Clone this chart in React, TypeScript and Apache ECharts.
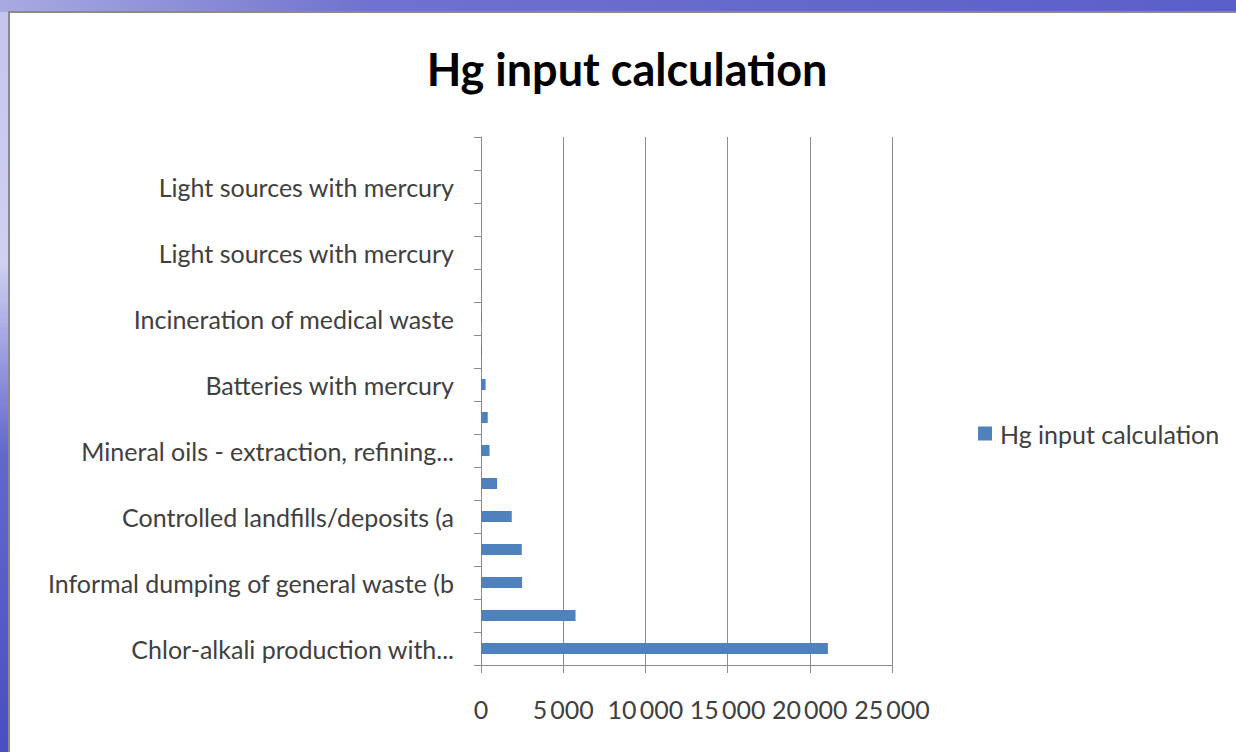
import React, { useEffect, useRef } from "react";
import * as echarts from "echarts";

const categories: string[] = [
  "Chlor-alkali production with...",
  "",
  "Informal dumping of general waste (b",
  "",
  "Controlled landfills/deposits (a",
  "",
  "Mineral oils - extraction, refining...",
  "",
  "Batteries with mercury",
  "",
  "Incineration of medical waste",
  "",
  "Light sources with mercury",
  "",
  "Light sources with mercury",
  "",
];

const hgInput: number[] = [
  21100, 5750, 2500, 2480, 1870, 980, 520, 410, 280, 60, 50, 50, 0, 0, 0, 0,
];

const xTicks = { min: 0, max: 25000, interval: 5000 };

const seriesName = "Hg input calculation";
const chartTitle = "Hg input calculation";

const FONT = "Lato, 'Open Sans', sans-serif";

export default function App() {
  const ref = useRef<HTMLDivElement>(null);

  useEffect(() => {
    if (!ref.current) return;
    const chart = echarts.init(ref.current, null, { renderer: "svg" });
    const fmt = (v: number) =>
      v === 0 ? "0" : String(v).replace(/\B(?=(\d{3})+(?!\d))/g, "\u2009");
    chart.setOption({
      animation: false,
      backgroundColor: "#ffffff",
      graphic: [
        {
          type: "rect",
          z: -10,
          silent: true,
          shape: { x: 0, y: 0, width: 1236, height: 752 },
          style: {
            fill: new echarts.graphic.LinearGradient(0, 0, 0, 1, [
              { offset: 0, color: "#c4c4ee" },
              { offset: 0.35, color: "#cfd0f2" },
              { offset: 0.6, color: "#6468cc" },
              { offset: 1, color: "#4a4fc0" },
            ]),
          },
        },
        {
          type: "rect",
          z: -9,
          silent: true,
          shape: { x: 0, y: 0, width: 1236, height: 12 },
          style: {
            fill: new echarts.graphic.LinearGradient(0, 0, 1, 0, [
              { offset: 0, color: "#a9aae2" },
              { offset: 0.3, color: "#6f72ce" },
              { offset: 1, color: "#5a5ec8" },
            ]),
          },
        },
        {
          type: "rect",
          z: -8,
          silent: true,
          shape: { x: 9, y: 12, width: 1240, height: 750 },
          style: { fill: "#ffffff", stroke: "#8a8a8a", lineWidth: 2 },
        },
      ],
      title: {
        text: chartTitle,
        left: 622,
        top: 41,
        textAlign: "center",
        textStyle: {
          fontFamily: FONT,
          fontSize: 45,
          fontWeight: "bold",
          color: "#000000",
        },
      },
      legend: {
        left: 973,
        top: 416,
        icon: "rect",
        itemWidth: 14,
        itemHeight: 14,
        textStyle: {
          fontFamily: FONT,
          fontSize: 25,
          color: "#404040",
          padding: [0, 0, 0, 3],
        },
        data: [seriesName],
      },
      grid: { left: 481, top: 137, width: 411, height: 528, containLabel: false },
      xAxis: {
        type: "value",
        min: xTicks.min,
        max: xTicks.max,
        interval: xTicks.interval,
        axisLine: { show: true, lineStyle: { color: "#8c8c8c", width: 1 } },
        axisTick: { show: true, length: 8, lineStyle: { color: "#8c8c8c" } },
        splitLine: { show: true, lineStyle: { color: "#8c8c8c", width: 1 } },
        axisLabel: {
          margin: 31,
          fontFamily: FONT,
          fontSize: 25,
          color: "#404040",
          formatter: fmt,
        },
      },
      yAxis: {
        type: "category",
        data: categories,
        axisLine: { show: true, lineStyle: { color: "#8c8c8c", width: 1 } },
        axisTick: {
          show: true,
          length: 7,
          interval: 0,
          lineStyle: { color: "#8c8c8c" },
        },
        axisLabel: {
          interval: 1,
          margin: 27,
          fontFamily: FONT,
          fontSize: 25,
          color: "#404040",
          padding: [0, 0, 3, 0],
        },
      },
      series: [
        {
          name: seriesName,
          type: "bar",
          data: hgInput,
          barWidth: 11,
          itemStyle: { color: "#4f81bd" },
        },
      ],
    });
    return () => chart.dispose();
  }, []);

  return (
    <div
      ref={ref}
      style={{ position: "fixed", left: 0, top: 0, width: 1236, height: 752 }}
    />
  );
}
